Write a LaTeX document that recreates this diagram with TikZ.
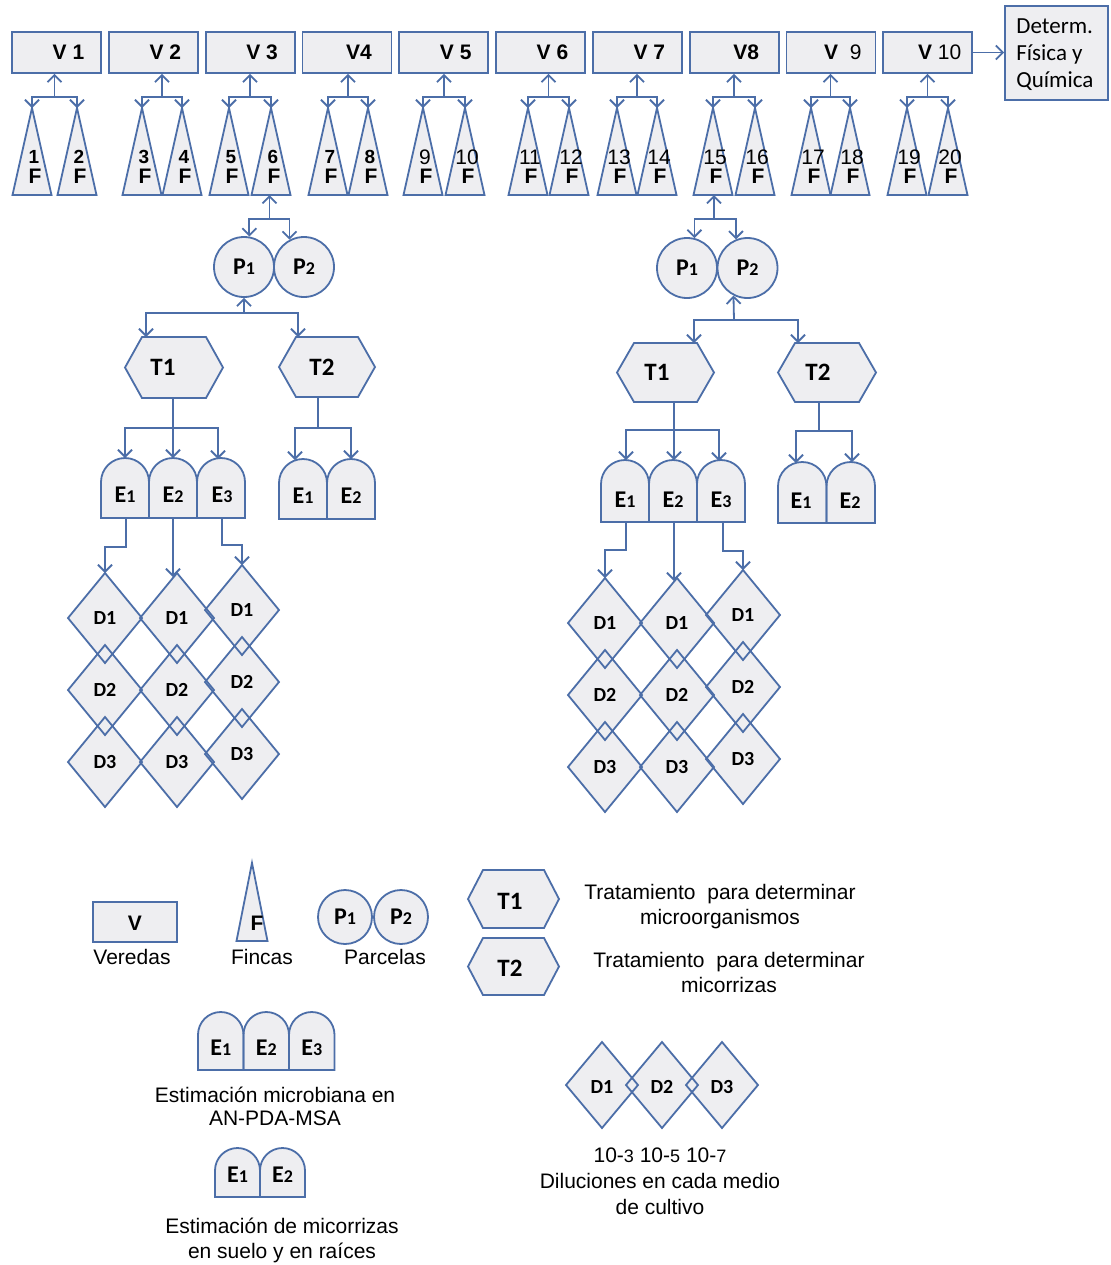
\documentclass[tikz,border=0pt]{standalone}
\usepackage{fontspec}
\setmainfont{Liberation Sans}
\newfontfamily\cfont{Carlito}
\usetikzlibrary{arrows.meta,calc}
\definecolor{lc}{RGB}{76,110,168}
\definecolor{tint}{RGB}{238,238,241}
% small digit set on the baseline (E1, P2, 10-3 ...)
\newcommand\dg[1]{{\fontsize{9}{9}\selectfont #1}}

\tikzset{
  outl/.style={draw=lc, line width=0.9pt, line join=miter},
  arr/.style={draw=lc, line width=0.9pt, -{Straight Barb[length=3.5pt,width=7pt]}},
  tinted/.style={fill=tint},
  vbox/.style={outl, tinted, rectangle, minimum width=44.5pt, minimum height=20.5pt, inner sep=0},
  pcirc/.style={outl, tinted, circle, minimum size=30pt, inner sep=0, font=\cfont\bfseries\fontsize{12}{12}\selectfont},
  clab/.style={font=\cfont\bfseries\fontsize{12.5}{13}\selectfont, inner sep=0},
  elab/.style={font=\cfont\bfseries\fontsize{12}{13}\selectfont, inner sep=0},
  dlab/.style={font=\cfont\bfseries\fontsize{10}{11}\selectfont, inner sep=0},
  vlab/.style={font=\fontsize{10.5}{12}\selectfont, inner sep=0},
  numb/.style={font=\bfseries\fontsize{9.5}{10}\selectfont, inner sep=0},
  numr/.style={font=\fontsize{10.5}{11}\selectfont, inner sep=0},
  fbold/.style={font=\bfseries\fontsize{10.5}{11}\selectfont, inner sep=0},
  txt/.style={font=\fontsize{10.5}{12.5}\selectfont, align=center, inner sep=0},
}

% apex x of the twenty fincas
\def\apexlist{32,77,142,182,229,271,328,368,423,465,528,569,617,657,713,755,811,850,907,948}

% style, apex x, apex y, half base, base y
\newcommand\tri[5]{\path[#1] (#2,#3) -- ({#2+#4},#5) -- ({#2-#4},#5) -- cycle;}
% style, cx, cy, half width, half height, inset
\newcommand\hexa[6]{\path[#1] ({#2-#4},#3) -- ({#2-#4+#6},{#3-#5}) -- ({#2+#4-#6},{#3-#5})
  -- ({#2+#4},#3) -- ({#2+#4-#6},{#3+#5}) -- ({#2-#4+#6},{#3+#5}) -- cycle;}
% style, left x, width, top y, bottom y
\newcommand\arch[5]{\path[#1] (#2,#5) -- (#2,{#4+#3/2}) arc[start angle=180,end angle=0,radius={#3*0.25pt}]
  -- ({#2+#3},#5) -- cycle;}
% style, cx, cy, half width, half height
\newcommand\dia[5]{\path[#1] (#2,{#3-#5}) -- ({#2+#4},#3) -- (#2,{#3+#5}) -- ({#2-#4},#3) -- cycle;}

\newcommand\allshapes[1]{%
  \foreach \a in \apexlist {\tri{#1}{\a}{108}{19.5}{195}}
  \tri{#1}{252}{863}{15.5}{941}
  % tratamientos
  \hexa{#1}{174}{367.5}{49}{30.5}{17}
  \hexa{#1}{327}{367}{48}{30}{17}
  \hexa{#1}{665.5}{372.5}{48.5}{29.5}{17}
  \hexa{#1}{827}{372.5}{49}{29.5}{17}
  \hexa{#1}{513.5}{899}{45.5}{29}{15}
  \hexa{#1}{513.5}{966.5}{45.5}{28.5}{15}
  % estimaciones
  \foreach \l in {101,149,197} {\arch{#1}{\l}{48}{458}{518}}
  \foreach \l in {279,327} {\arch{#1}{\l}{48}{459}{519}}
  \foreach \l in {601,649,697} {\arch{#1}{\l}{48}{460}{522}}
  \foreach \l in {778,826.5} {\arch{#1}{\l}{48.5}{462}{523}}
  \foreach \l in {198,243.5,289} {\arch{#1}{\l}{45.5}{1012}{1070}}
  \foreach \l in {215,260} {\arch{#1}{\l}{45}{1148}{1197}}
  % diluciones
  \foreach \x/\y in {105/618,177/618,242/610,605/623,677/623,743/615}
    {\foreach \d in {0,72,144} {\dia{#1}{\x}{\y+\d}{37}{45}}}
  \foreach \x in {602,662,722} {\dia{#1}{\x}{1085}{36}{43}}
}

\begin{document}
\begin{tikzpicture}[x=0.5pt,y=-0.5pt]
\fill[white] (0,0) rectangle (1110,1265);
\useasboundingbox (0,0) rectangle (1110,1265);

% light tint inside the drawn shapes
\allshapes{tinted}

% veredas
\foreach \k in {1,...,10} {\node[vbox] (v\k) at ({56.5+96.8*(\k-1)},52.5) {};}
\node[outl, tinted, rectangle, minimum width=51.5pt, minimum height=47pt, inner sep=0] (det) at (1056.5,53) {};

% parcelas
\node[pcirc] (pa1) at (244,267) {P\dg{1}};
\node[pcirc] (pa2) at (304,267) {P\dg{2}};
\node[pcirc] (pb1) at (687,268) {P\dg{1}};
\node[pcirc] (pb2) at (747.5,268) {P\dg{2}};

% legend boxes
\node[vbox, minimum width=42pt, minimum height=20pt] (lv) at (135,922) {};
\node[pcirc, minimum size=27pt] (lp1) at (345,917) {P\dg{1}};
\node[pcirc, minimum size=27pt] (lp2) at (401,917) {P\dg{2}};

% outlines
\allshapes{outl}

% fincas anchor points and labels
\foreach \a [count=\k] in \apexlist {
  \coordinate (f\k) at (\a,108);
  \coordinate (fb\k) at (\a,195);
  \ifnum\k<9 \node[numb] (n\k) at ({\a+2},157) {\k};
  \else \node[numr] (n\k) at ({\a+2},157) {\k}; \fi
  \node[fbold] (ff\k) at ({\a+3},176) {F};
}

% vereda labels
\foreach \k/\t in {1/{\textbf{V 1}},2/{\textbf{V 2}},3/{\textbf{V 3}},4/{\textbf{V4}},5/{\textbf{V 5}},
  6/{\textbf{V 6}},7/{\textbf{V 7}},8/{\textbf{V8}},9/{\textbf{V}\ \ 9},10/{\textbf{V} 10}}
  {\node[vlab] (vt\k) at ($(v\k)+(12,0)$) {\t};}

% veredas -> fincas
\foreach \k in {1,...,10} {
  \pgfmathtruncatemacro\l{2*\k-1}
  \pgfmathtruncatemacro\r{2*\k}
  \coordinate (jv\k) at ($(f\l)!0.5!(f\r)+(0,-11)$);
  \draw[arr] (jv\k) -- (jv\k |- v\k.south);
  \draw[arr] (jv\k) -| (f\l);
  \draw[arr] (jv\k) -| (f\r);
}
\draw[arr] (v10.east) -- (v10.east -| det.west);
\node[font=\cfont\fontsize{11.5}{13.5}\selectfont, align=left, anchor=west, inner sep=0] (dett) at (1016,55)
  {Determ.\\Física y\\Química};

% ---- branch under finca 6 ----
\coordinate (jpa) at (269.5,219);
\draw[arr] (jpa) -- (jpa |- fb6);
\draw[arr] (jpa) -| (pa1.80);
\draw[arr] (jpa) -| (pa2.118);
\coordinate (jqa) at (244,313);
\coordinate (ta1in) at (146,337);
\coordinate (ta2in) at (298,337);
\draw[arr] (jqa) -- (pa1.south);
\draw[arr] (jqa) -| (ta1in);
\draw[arr] (jqa) -| (ta2in);
\node[clab] (ta1) at (163,367) {T1};
\node[clab] (ta2) at (322,367) {T2};

\coordinate (ta1b) at (173,398); \coordinate (jea) at (173,428);
\coordinate (ea1t) at (125,458); \coordinate (ea2t) at (173,458); \coordinate (ea3t) at (218,459);
\draw[outl] (ta1b) -- (jea);
\draw[arr] (jea) -| (ea1t); \draw[arr] (jea) -- (ea2t); \draw[arr] (jea) -| (ea3t);
\coordinate (ta2b) at (318,397); \coordinate (jeb) at (318,428);
\coordinate (eb1t) at (295,460); \coordinate (eb2t) at (351,459);
\draw[outl] (ta2b) -- (jeb);
\draw[arr] (jeb) -| (eb1t); \draw[arr] (jeb) -| (eb2t);

\foreach \x/\i in {125/1,173/2,222/3} {\node[elab] (ea\i) at (\x,495) {E\dg{\i}};}
\foreach \x/\i in {303/1,351/2} {\node[elab] (eb\i) at (\x,496) {E\dg{\i}};}

\coordinate (ea1b) at (126,518); \coordinate (ja1) at (105,547); \coordinate (da1t) at (105,573);
\draw[arr] (ea1b) |- (ja1) -- (da1t);
\coordinate (ea2b) at (173,518); \coordinate (da2t) at (173,577);
\draw[arr] (ea2b) -- (da2t);
\coordinate (ea3b) at (222,518); \coordinate (ja3) at (242,545); \coordinate (da3t) at (242,565);
\draw[arr] (ea3b) |- (ja3) -- (da3t);

% ---- branch under finca 15 ----
\coordinate (jpb) at (714,219);
\draw[arr] (jpb) -- (jpb |- fb15);
\draw[arr] (jpb) -| (pb1.76);
\draw[arr] (jpb) -| (pb2.112);
\coordinate (jqb) at (734,320);
\coordinate (tb1in) at (694,343);
\coordinate (tb2in) at (798,343);
\draw[arr] (jqb) -- (pb2.243);
\draw[arr] (jqb) -| (tb1in);
\draw[arr] (jqb) -| (tb2in);
\node[clab] (tb1) at (657,372) {T1};
\node[clab] (tb2) at (818,372) {T2};

\coordinate (tb1b) at (674,402); \coordinate (jec) at (674,430);
\coordinate (ec1t) at (626,460); \coordinate (ec2t) at (674,460); \coordinate (ec3t) at (719,461);
\draw[outl] (tb1b) -- (jec);
\draw[arr] (jec) -| (ec1t); \draw[arr] (jec) -- (ec2t); \draw[arr] (jec) -| (ec3t);
\coordinate (tb2b) at (819,402); \coordinate (jed) at (819,431);
\coordinate (ed1t) at (796,463); \coordinate (ed2t) at (852,462);
\draw[outl] (tb2b) -- (jed);
\draw[arr] (jed) -| (ed1t); \draw[arr] (jed) -| (ed2t);

\foreach \x/\i in {625/1,673/2,721/3} {\node[elab] (ec\i) at (\x,500) {E\dg{\i}};}
\foreach \x/\i in {801/1,850/2} {\node[elab] (ed\i) at (\x,501) {E\dg{\i}};}

\coordinate (ec1b) at (626,522); \coordinate (jc1) at (605,550); \coordinate (dc1t) at (605,578);
\draw[arr] (ec1b) |- (jc1) -- (dc1t);
\coordinate (ec2b) at (674,522); \coordinate (dc2t) at (674,581);
\draw[arr] (ec2b) -- (dc2t);
\coordinate (ec3b) at (723,522); \coordinate (jc3) at (743,551); \coordinate (dc3t) at (743,570);
\draw[arr] (ec3b) |- (jc3) -- (dc3t);

% dilution labels
\foreach \x/\y/\c in {105/618/a,177/618/b,242/610/c,605/623/d,677/623/e,743/615/f}
  {\foreach \d [count=\i] in {0,72,144} {\node[dlab] (d\c\i) at (\x,\y+\d) {D\i};}}

% ---- legend ----
\node[vlab, font=\bfseries\fontsize{10.5}{12}\selectfont] (lvl) at (135,923) {V};
\node[txt] (lvt) at (132,957) {Veredas};
\node[fbold] (lf) at (257,923) {F};
\node[txt] (lft) at (262,957) {Fincas};
\node[txt] (lpt) at (385,957) {Parcelas};
\node[clab] (lt1) at (510,901) {T1};
\node[clab] (lt2) at (510,968) {T2};
\node[txt] (lt1t) at (720,907) {Tratamiento\ \ para determinar\\microorganismos};
\node[txt] (lt2t) at (729,972) {Tratamiento\ \ para determinar\\micorrizas};
\foreach \x/\i in {220.75/1,266.25/2,311.75/3} {\node[elab] (le\i) at (\x,1048) {E\dg{\i}};}
\node[txt, font=\fontsize{10.5}{11.5}\selectfont] (let) at (275,1106) {Estimación microbiana en\\AN-PDA-MSA};
\foreach \x/\i in {237.5/1,282.5/2} {\node[elab] (lm\i) at (\x,1175) {E\dg{\i}};}
\node[txt] (lmt) at (282,1240) {Estimación de micorrizas\\en suelo y en raíces};
\foreach \x/\i in {602/1,662/2,722/3} {\node[dlab] (ld\i) at (\x,1087) {D\i};}
\node[txt, font=\fontsize{10.5}{13}\selectfont] (ldt) at (660,1181)
  {10-\dg{3} 10-\dg{5} 10-\dg{7}\\Diluciones en cada medio\\de cultivo};
\end{tikzpicture}
\end{document}
